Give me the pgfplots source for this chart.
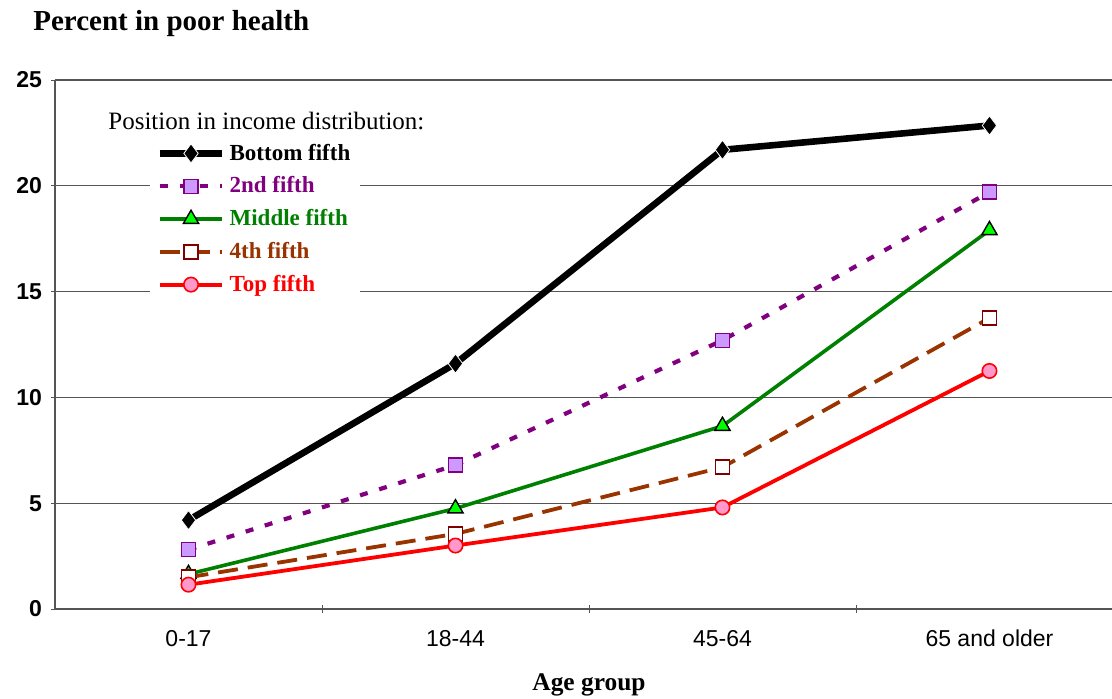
\documentclass[border=0pt]{standalone}
\usepackage{pgfplots}
\pgfplotsset{compat=1.18}
\usepackage{fontspec}
\setmainfont{Liberation Serif}
\newfontfamily\arial{Liberation Sans}
\definecolor{cPurple}{HTML}{800080}
\definecolor{cLilac}{HTML}{CC99FF}
\definecolor{cGreen}{HTML}{008000}
\definecolor{cLime}{HTML}{00FF00}
\definecolor{cBrown}{HTML}{993300}
\definecolor{cMaroon}{HTML}{800000}
\definecolor{cPink}{HTML}{FF99CC}
\definecolor{cGrid}{HTML}{555555}

\begin{document}
\begin{tikzpicture}
\begin{axis}[
    name=ax,
    scale only axis,
    width=528.5pt, height=264.5pt,
    xmin=-0.5, xmax=3.459,
    ymin=0, ymax=25,
    ytick={0,5,10,15,20,25},
    xtick={0,1,2,3},
    xticklabels={0-17,18-44,45-64,65 and older},
    minor xtick={0.5,1.5,2.5},
    major x tick style={draw=none},
    minor x tick style={cGrid, thin},
    minor tick length=4pt,
    major tick length=4pt,
    tick align=outside,
    ytick style={cGrid, thin},
    axis x line=bottom, axis y line=left,
    axis line style={-, cGrid, line width=0.9pt},
    ymajorgrids=true,
    grid style={cGrid, line width=0.6pt},
    /pgf/number format/assume math mode=true,
    xticklabel style={font=\arial\fontsize{11.5}{13}\selectfont, yshift=-5pt},
    yticklabel style={font=\arial\bfseries\fontsize{11.5}{13}\selectfont, xshift=-1pt},
    clip=false,
    legend style={
        at={(rel axis cs:0.0899,0.899)}, anchor=north west,
        fill=white, draw=none,
        font=\bfseries\fontsize{11.5}{13}\selectfont,
        row sep=2.8pt, inner xsep=3pt, inner ysep=3pt,
        legend cell align=left,
    },
    legend image code/.code={%
        \draw[mark repeat=2,mark phase=2,#1]
            plot coordinates {(0cm,0cm) (0.55cm,0cm) (1.1cm,0cm)};},
]
\addplot[black, line width=3.3pt, mark=diamond*, mark size=4.8pt,
    mark options={solid, fill=black, draw=white, line width=0.4pt}]
    coordinates {(0,4.2) (1,11.6) (2,21.7) (3,22.85)};
\addlegendentry{\textcolor{black}{Bottom fifth}}
\addplot[cPurple, line width=2.1pt, dash pattern=on 4pt off 6pt, mark=square*, mark size=3.5pt,
    mark options={solid, fill=cLilac, draw=cPurple, line width=0.7pt}]
    coordinates {(0,2.8) (1,6.8) (2,12.7) (3,19.7)};
\addlegendentry{\textcolor{cPurple}{2nd fifth}}
\addplot[cGreen, line width=1.8pt, mark=triangle*, mark size=4.4pt,
    mark options={solid, fill=cLime, draw=black, line width=0.7pt}]
    coordinates {(0,1.65) (1,4.75) (2,8.65) (3,17.9)};
\addlegendentry{\textcolor{cGreen}{Middle fifth}}
\addplot[cBrown, line width=1.9pt, dash pattern=on 10pt off 5pt, mark=square*, mark size=3.5pt,
    mark options={solid, fill=white, draw=cMaroon, line width=0.8pt}]
    coordinates {(0,1.5) (1,3.55) (2,6.7) (3,13.75)};
\addlegendentry{\textcolor{cBrown}{4th fifth}}
\addplot[red, line width=1.9pt, mark=*, mark size=3.6pt,
    mark options={solid, fill=cPink, draw=red, line width=0.8pt}]
    coordinates {(0,1.15) (1,3.0) (2,4.8) (3,11.25)};
\addlegendentry{\textcolor{red}{Top fifth}}
\node[anchor=base west, font=\fontsize{12.5}{14}\selectfont, inner sep=0pt]
    at ([xshift=26.5pt, yshift=-24.5pt]rel axis cs:0,1) {Position in income distribution:};
\node[anchor=base west, font=\bfseries\fontsize{14.5}{16}\selectfont, inner sep=0pt]
    at ([xshift=-11pt, yshift=25pt]rel axis cs:0,1) {Percent in poor health};
\node[anchor=base, font=\bfseries\fontsize{12.7}{14}\selectfont, inner sep=0pt]
    at ([yshift=-40.5pt]axis cs:1.5,0) {Age group};
\end{axis}
\pgfresetboundingbox
\path[use as bounding box] ([xshift=-27.5pt, yshift=-44.5pt]ax.south west)
    rectangle ([yshift=40pt]ax.north east);
\end{tikzpicture}
\end{document}
